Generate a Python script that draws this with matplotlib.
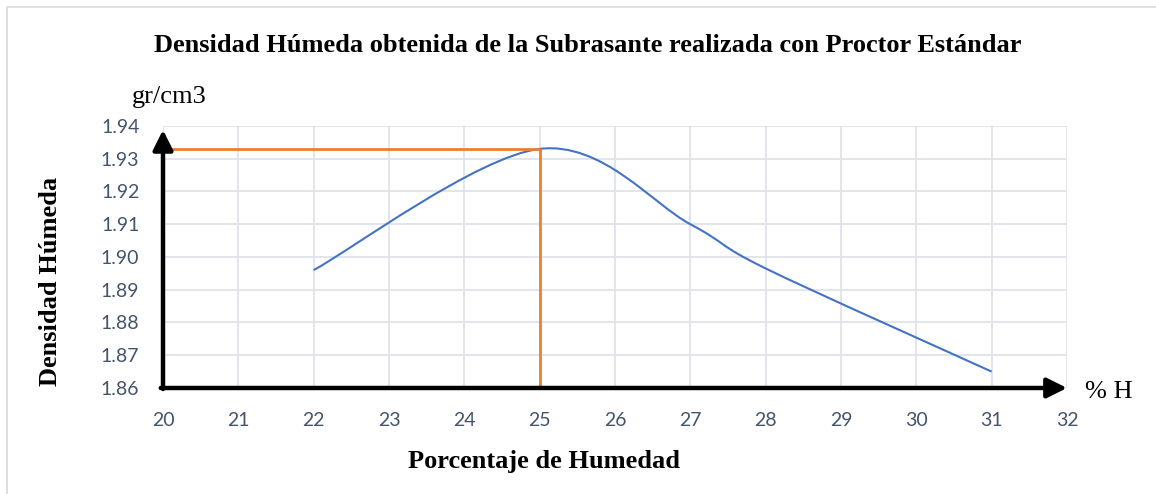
import matplotlib
matplotlib.use('Agg')
import matplotlib.pyplot as plt
from matplotlib.path import Path
from matplotlib.patches import PathPatch, Rectangle

# datos del ensayo Proctor
humedad = [22, 25, 27, 28, 31]
densidad = [1.896, 1.933, 1.910, 1.8965, 1.865]
hum_optima = 25
dens_max = 1.933

xticks = list(range(20, 33))
yticks = [1.86, 1.87, 1.88, 1.89, 1.90, 1.91, 1.92, 1.93, 1.94]


def smooth_path(xs, ys):
    # curva suavizada tipo Excel (bezier con puntos de control a 1/6)
    pts = list(zip(xs, ys))
    verts = [pts[0]]
    codes = [Path.MOVETO]
    n = len(pts)
    for i in range(n - 1):
        p0 = pts[i - 1] if i > 0 else pts[i]
        p1 = pts[i]
        p2 = pts[i + 1]
        p3 = pts[i + 2] if i + 2 < n else pts[i + 1]
        c1 = (p1[0] + (p2[0] - p0[0]) / 6, p1[1] + (p2[1] - p0[1]) / 6)
        c2 = (p2[0] - (p3[0] - p1[0]) / 6, p2[1] - (p3[1] - p1[1]) / 6)
        verts += [c1, c2, p2]
        codes += [Path.CURVE4] * 3
    return Path(verts, codes)


def main():
    fig = plt.figure(figsize=(11.56, 4.94), dpi=100)
    ax = fig.add_axes([0.1410, 0.2146, 0.7820, 0.5304])

    # marco del grafico
    fig.patches.append(Rectangle((7 / 1156, -0.1), 1.2, 1 - 7 / 494 + 0.1, transform=fig.transFigure,
                                 fill=False, edgecolor='#D9D9D9', lw=1.2))

    ax.set_xlim(20, 32)
    ax.set_ylim(1.86, 1.94)
    ax.set_xticks(xticks)
    ax.set_yticks(yticks)
    ax.set_yticklabels(['%.2f' % v for v in yticks])
    ax.grid(True, color='#DFE3EA', lw=1.3)
    ax.set_axisbelow(True)
    for s in ax.spines.values():
        s.set_visible(False)
    ax.tick_params(length=0, pad=17, labelsize=14, labelcolor='#44546A')
    for lab in ax.get_xticklabels() + ax.get_yticklabels():
        lab.set_fontfamily('Lato')

    # curva
    ax.add_patch(PathPatch(smooth_path(humedad, densidad), fill=False, edgecolor='#4472C4', lw=1.5))

    # lineas de humedad optima
    ax.plot([20, hum_optima], [dens_max, dens_max], color='#ED7D31', lw=2, solid_capstyle='butt')
    ax.plot([hum_optima, hum_optima], [1.86, dens_max], color='#ED7D31', lw=2, solid_capstyle='butt')

    # ejes con flechas
    ax.annotate('', xy=(20, 1.9388), xytext=(20, 1.8597),
                arrowprops=dict(arrowstyle='-|>,head_length=0.6,head_width=0.3', lw=3.2, color='black',
                                mutation_scale=20, shrinkA=0, shrinkB=0), annotation_clip=False)
    ax.annotate('', xy=(32, 1.86), xytext=(19.97, 1.86),
                arrowprops=dict(arrowstyle='-|>,head_length=0.6,head_width=0.3', lw=3.2, color='black',
                                mutation_scale=20, shrinkA=0, shrinkB=0), annotation_clip=False)

    fig.text(0.5087, 0.9089, 'Densidad Húmeda obtenida de la Subrasante realizada con Proctor Estándar',
             ha='center', va='center', fontsize=19, fontweight='bold', family='Liberation Serif')
    fig.text(0.4706, 0.0648, 'Porcentaje de Humedad', ha='center', va='center', fontsize=19,
             fontweight='bold', family='Liberation Serif')
    fig.text(0.0433, 0.4312, 'Densidad Húmeda', ha='center', va='center', rotation=90, fontsize=19,
             fontweight='bold', family='Liberation Serif')
    fig.text(0.1142, 0.8036, 'gr/cm3', ha='left', va='center', fontsize=19, family='Liberation Serif')
    fig.text(0.9386, 0.2065, '% H', ha='left', va='center', fontsize=19, family='Liberation Serif')

    fig.savefig('out.png', dpi=100)
    plt.close()


if __name__ == '__main__':
    main()
